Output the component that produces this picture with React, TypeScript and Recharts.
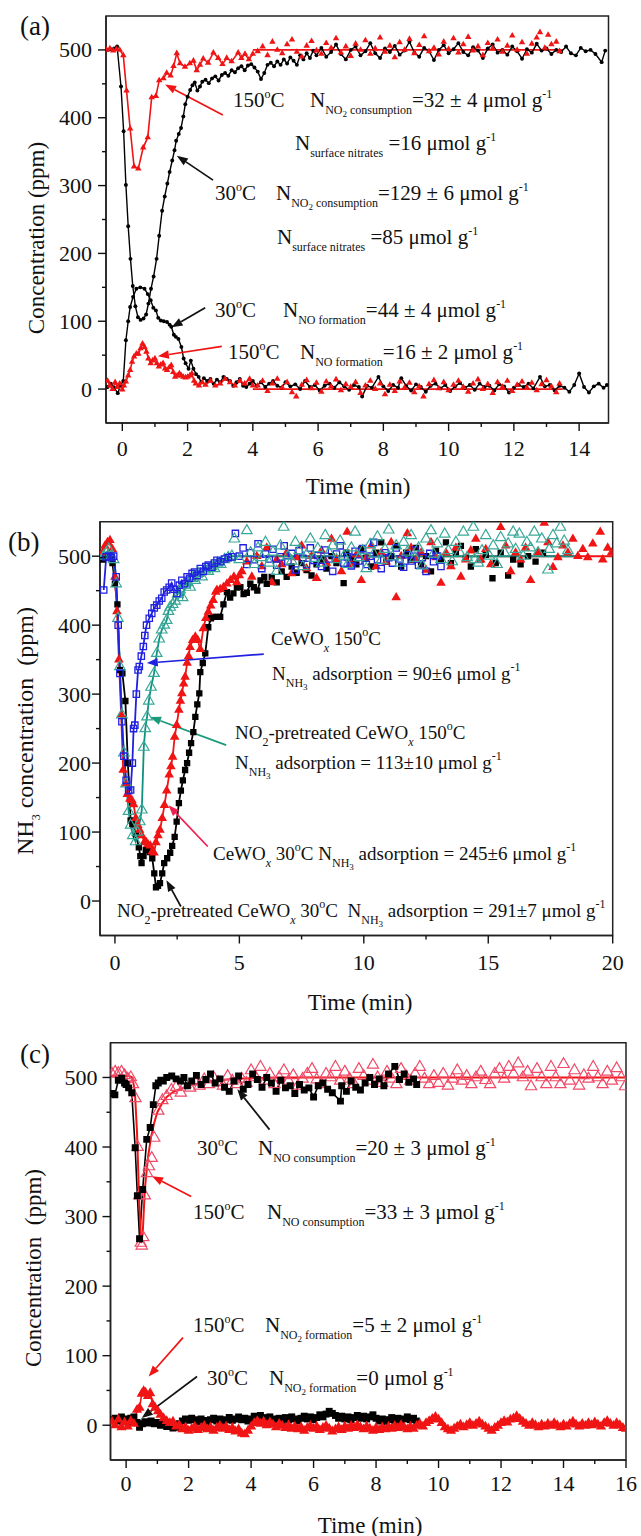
import React from 'react';
import { ComposedChart, Line, XAxis, YAxis, ReferenceLine, ReferenceArea, Symbols } from 'recharts';

type Pt = [number, number];
const SERIF = '"Liberation Serif", "DejaVu Serif", serif';

// (a) NO2 adsorption, NO2 outlet at 30 C (black) and 150 C (red)
const aNo2At30: Pt[] = [
  [-0.45, 500], [-0.35, 501], [-0.25, 502], [-0.16, 505], [-0.04, 446], [0.04, 380], [0.11, 301], [0.18, 240],
  [0.25, 192], [0.32, 152], [0.4, 122], [0.48, 106], [0.56, 102], [0.65, 104], [0.73, 110], [0.8, 126],
  [0.88, 148], [0.96, 166], [1.05, 192], [1.13, 226], [1.22, 263], [1.3, 284], [1.38, 303], [1.45, 320],
  [1.53, 337], [1.6, 352], [1.65, 366], [1.73, 376], [1.8, 385], [1.87, 402], [1.93, 420], [2.0, 431],
  [2.08, 441], [2.15, 448], [2.22, 452], [2.3, 440], [2.38, 446], [2.45, 453], [2.55, 456], [2.65, 451],
  [2.75, 458], [2.85, 461], [2.95, 455], [3.05, 463], [3.15, 466], [3.25, 462], [3.35, 470], [3.45, 467],
  [3.55, 473], [3.65, 476], [3.75, 470], [3.85, 477], [3.95, 479], [4.05, 474], [4.15, 468], [4.25, 457],
  [4.35, 466], [4.45, 478], [4.55, 481], [4.65, 476], [4.75, 483], [4.85, 478], [4.95, 486], [5.05, 480],
  [5.15, 489], [5.25, 484], [5.35, 478], [5.45, 492], [5.55, 486], [5.65, 495], [5.75, 488], [5.85, 499],
  [5.95, 492], [6.1, 503], [6.25, 490], [6.4, 497], [6.55, 508], [6.7, 494], [6.85, 486], [7.0, 500],
  [7.15, 505], [7.3, 492], [7.45, 498], [7.6, 510], [7.75, 495], [7.9, 488], [8.05, 502], [8.2, 497],
  [8.35, 506], [8.5, 493], [8.65, 499], [8.8, 512], [8.95, 496], [9.1, 490], [9.25, 503], [9.4, 498],
  [9.55, 485], [9.7, 500], [9.85, 507], [10.0, 495], [10.15, 501], [10.3, 510], [10.45, 497], [10.6, 492],
  [10.75, 504], [10.9, 499], [11.05, 488], [11.2, 502], [11.35, 508], [11.5, 496], [11.65, 500], [11.8, 493],
  [11.95, 505], [12.1, 498], [12.25, 487], [12.4, 501], [12.55, 496], [12.7, 509], [12.85, 499], [13.0, 502],
  [13.15, 494], [13.3, 500], [13.45, 497], [13.6, 505], [13.75, 495], [13.9, 492], [14.05, 503], [14.2, 498],
  [14.35, 500], [14.5, 494], [14.69, 482], [14.8, 499],
];
const aNo2At150: Pt[] = [
  [-0.48, 500], [-0.38, 502], [-0.28, 499], [-0.18, 501], [-0.08, 500], [0.03, 492], [0.13, 440], [0.24, 384],
  [0.36, 328], [0.49, 325], [0.64, 356], [0.78, 371], [0.9, 430], [1.03, 432], [1.13, 455], [1.26, 458],
  [1.36, 466], [1.48, 462], [1.57, 476], [1.67, 495], [1.77, 480], [1.92, 475], [2.07, 480], [2.18, 484],
  [2.28, 470], [2.38, 478], [2.48, 487], [2.63, 481], [2.79, 496], [2.94, 488], [3.07, 479], [3.2, 488],
  [3.35, 483], [3.55, 496], [3.65, 488], [3.76, 494], [3.88, 486], [4.0, 494],
];
const aNo2At150Fit: Pt[] = [[4.0, 500], [13.5, 500]];
const aNo2At150Tail: Pt[] = [
  [4.15, 498], [4.3, 505], [4.45, 492], [4.6, 512], [4.75, 500], [4.9, 495], [5.05, 508], [5.2, 515],
  [5.35, 497], [5.5, 490], [5.65, 506], [5.8, 513], [5.95, 499], [6.1, 494], [6.25, 510], [6.4, 503],
  [6.55, 517], [6.7, 496], [6.85, 505], [7.0, 491], [7.15, 509], [7.3, 500], [7.45, 514], [7.6, 494],
  [7.75, 502], [7.9, 518], [8.05, 497], [8.2, 506], [8.35, 489], [8.5, 511], [8.65, 500], [8.8, 516],
  [8.95, 495], [9.1, 507], [9.25, 520], [9.4, 498], [9.55, 503], [9.7, 493], [9.85, 512], [10.0, 501],
  [10.15, 517], [10.3, 496], [10.45, 508], [10.6, 519], [10.75, 499], [10.9, 505], [11.05, 492], [11.2, 510],
  [11.35, 502], [11.5, 515], [11.65, 497], [11.8, 506], [11.95, 521], [12.1, 500], [12.25, 511], [12.4, 494],
  [12.55, 509], [12.7, 518], [12.8, 526], [12.95, 503], [13.05, 522], [13.15, 508], [13.3, 512], [13.4, 498],
];
// (a) NO outlet
const aNoAt30: Pt[] = [
  [-0.45, 3], [-0.35, 8], [-0.25, 2], [-0.14, -6], [-0.05, 6], [0.03, 12], [0.11, 72], [0.18, 100],
  [0.24, 121], [0.33, 136], [0.43, 148], [0.55, 150], [0.68, 148], [0.78, 140], [0.87, 131], [0.95, 120],
  [1.03, 116], [1.1, 105], [1.18, 101], [1.27, 100], [1.37, 99], [1.45, 95], [1.5, 92], [1.58, 80],
  [1.64, 77], [1.72, 74], [1.81, 62], [1.88, 45], [1.94, 38], [2.03, 30], [2.1, 42], [2.18, 30],
  [2.26, 22], [2.34, 18], [2.42, 10], [2.5, 16], [2.6, 12], [2.7, 15], [2.8, 8], [2.9, 14],
  [3.0, 10], [3.1, 18], [3.2, 15], [3.3, 12], [3.4, 5], [3.5, 10], [3.6, 15], [3.7, 5],
  [3.8, 3], [3.9, 8], [4.0, 12], [4.12, 5], [4.25, 10], [4.38, 3], [4.5, 8], [4.62, 12],
  [4.75, 5], [4.88, 2], [5.0, 10], [5.15, 4], [5.3, 7], [5.45, 0], [5.6, 12], [5.75, 3],
  [5.9, 6], [6.05, -2], [6.2, 5], [6.35, 8], [6.5, 2], [6.65, 10], [6.8, 4], [6.95, -1],
  [7.1, 6], [7.25, 3], [7.35, -11], [7.5, 5], [7.65, 2], [7.85, 18], [8.0, 4], [8.15, -3],
  [8.3, 6], [8.45, 2], [8.55, 16], [8.7, 5], [8.85, -2], [9.0, 7], [9.15, 3], [9.3, -4],
  [9.45, 5], [9.6, 8], [9.75, 1], [9.9, 6], [10.05, -3], [10.2, 4], [10.35, 9], [10.5, 2],
  [10.65, 6], [10.8, -1], [10.95, 8], [11.1, 3], [11.25, 5], [11.4, -2], [11.55, 7], [11.7, 4],
  [11.85, -5], [12.0, 2], [12.15, 6], [12.3, 3], [12.45, 8], [12.6, 1], [12.8, 18], [12.95, 4],
  [13.1, 6], [13.25, -2], [13.4, 5], [13.55, 2], [13.7, -4], [13.85, 6], [14.0, 23], [14.15, 3],
  [14.3, -5], [14.45, 4], [14.6, 8], [14.75, 2], [14.85, 6],
];
const aNoAt150: Pt[] = [
  [-0.45, 12], [-0.38, 5], [-0.3, 0], [-0.22, 10], [-0.15, 3], [-0.08, 8], [0.0, -1], [0.05, 5],
  [0.11, 11], [0.18, 20], [0.24, 28], [0.3, 40], [0.36, 48], [0.43, 52], [0.49, 52], [0.56, 60],
  [0.62, 67], [0.68, 62], [0.74, 55], [0.8, 45], [0.87, 38], [0.93, 42], [1.0, 45], [1.06, 38],
  [1.12, 33], [1.18, 36], [1.25, 38], [1.31, 30], [1.37, 28], [1.44, 32], [1.5, 35], [1.56, 25],
  [1.62, 18], [1.68, 20], [1.75, 23], [1.81, 20], [1.87, 18], [1.94, 17], [2.0, 18], [2.07, 20],
  [2.13, 23], [2.2, 12], [2.25, 8], [2.35, 5], [2.45, 10], [2.55, 6], [2.7, 12], [2.85, 5],
  [3.0, 8], [3.15, 15], [3.3, 10], [3.45, 5], [3.6, 12], [3.75, 8], [3.9, 15], [4.0, 5],
];
const aNoAt150Fit: Pt[] = [[4.0, 0], [13.5, 0]];
const aNoAt150Tail: Pt[] = [
  [4.15, 5], [4.3, 12], [4.45, -3], [4.6, 8], [4.75, 15], [4.9, 2], [5.05, 10], [5.2, -5],
  [5.33, -11], [5.5, 6], [5.65, 13], [5.8, 1], [5.95, 9], [6.1, -4], [6.25, 11], [6.4, 4],
  [6.55, 14], [6.7, -2], [6.85, 7], [7.0, 3], [7.15, 10], [7.3, -6], [7.45, 5], [7.6, 12],
  [7.75, 0], [7.9, 8], [8.05, -8], [8.2, 6], [8.35, -3], [8.5, 11], [8.65, 2], [8.8, 9],
  [8.95, -5], [9.1, 4], [9.23, -11], [9.4, 7], [9.55, 13], [9.7, 1], [9.85, 10], [10.0, -2],
  [10.15, 6], [10.3, 12], [10.45, 3], [10.6, -4], [10.75, 8], [10.9, 14], [11.05, 0], [11.2, 7],
  [11.35, -6], [11.5, 10], [11.65, 3], [11.8, 12], [11.95, -3], [12.1, 6], [12.25, 11], [12.4, 2],
  [12.55, 9], [12.7, -2], [12.85, 7], [13.0, 13], [13.15, 4], [13.3, -5], [13.4, 8],
];

// (b) NH3 adsorption
const bCeW150: Pt[] = [
  [-0.45, 451], [-0.35, 499], [-0.25, 500], [-0.15, 498], [-0.05, 500], [0.05, 470], [0.13, 400], [0.2, 330],
  [0.28, 260], [0.36, 210], [0.45, 175], [0.55, 160], [0.63, 161], [0.7, 200], [0.75, 250], [0.8, 255],
  [0.86, 300], [0.93, 335], [0.98, 340], [1.06, 355], [1.14, 369], [1.2, 385], [1.27, 400], [1.38, 410],
  [1.48, 417], [1.58, 425], [1.68, 429], [1.78, 435], [1.88, 439], [1.98, 448], [2.08, 451], [2.18, 455],
  [2.28, 461], [2.38, 452], [2.49, 446], [2.59, 458], [2.69, 465], [2.8, 460], [2.9, 470], [3.0, 468],
  [3.1, 475], [3.2, 477], [3.3, 472], [3.43, 482], [3.55, 478], [3.65, 485], [3.75, 487], [3.9, 484],
  [4.0, 490], [4.1, 494], [4.25, 492], [4.4, 496], [4.55, 498], [4.7, 499],
];
const bCeW150Tail: Pt[] = [
  [4.84, 533], [5.0, 500], [5.15, 512], [5.3, 488], [5.45, 505], [5.6, 495], [5.75, 518], [5.9, 482],
  [6.05, 503], [6.2, 496], [6.35, 510], [6.5, 487], [6.65, 499], [6.8, 515], [6.95, 492], [7.1, 504],
  [7.25, 480], [7.4, 508], [7.55, 497], [7.7, 488], [7.85, 512], [8.0, 494], [8.15, 501], [8.3, 485],
  [8.45, 509], [8.6, 496], [8.75, 478], [8.9, 503], [9.05, 515], [9.2, 490], [9.35, 499], [9.5, 486],
  [9.65, 507], [9.8, 493], [9.95, 511], [10.1, 488], [10.25, 500], [10.4, 520], [10.55, 495], [10.7, 482],
  [10.85, 505], [11.0, 498], [11.15, 490], [11.3, 512], [11.45, 496], [11.6, 484], [11.75, 502], [11.9, 493],
  [12.05, 509], [12.2, 487], [12.35, 498], [12.5, 478], [12.65, 504], [12.8, 492], [12.95, 500], [13.1, 485],
];
const bPre150: Pt[] = [
  [-0.45, 500], [-0.35, 505], [-0.25, 510], [-0.15, 500], [-0.05, 495], [0.05, 460], [0.12, 410], [0.2, 340],
  [0.28, 270], [0.36, 215], [0.45, 170], [0.55, 130], [0.63, 110], [0.72, 95], [0.83, 86], [0.9, 100],
  [1.0, 115], [1.08, 132], [1.16, 223], [1.22, 250], [1.29, 267], [1.36, 290], [1.45, 310], [1.57, 330],
  [1.68, 359], [1.78, 380], [1.88, 393], [1.98, 400], [2.08, 407], [2.15, 420], [2.22, 426], [2.32, 430],
  [2.42, 435], [2.52, 445], [2.62, 451], [2.72, 440], [2.82, 458], [2.92, 462], [3.02, 455], [3.12, 468],
  [3.22, 465], [3.35, 475], [3.5, 470], [3.62, 480], [3.75, 478], [3.88, 485], [4.0, 482], [4.12, 490],
  [4.25, 488], [4.4, 495], [4.55, 498], [4.7, 500],
];
const bPre150Fit: Pt[] = [[4.7, 500], [18.6, 500]];
const bPre150Tail: Pt[] = [
  [4.8, 525], [5.0, 495], [5.3, 537], [5.45, 505], [5.6, 488], [5.75, 512], [5.9, 498], [6.05, 520],
  [6.2, 490], [6.35, 506], [6.5, 478], [6.65, 515], [6.78, 542], [6.95, 500], [7.1, 493], [7.25, 520],
  [7.4, 508], [7.55, 485], [7.7, 502], [7.85, 525], [8.0, 497], [8.15, 511], [8.3, 490], [8.45, 530],
  [8.6, 505], [8.75, 515], [8.9, 495], [9.05, 522], [9.2, 500], [9.35, 488], [9.5, 512], [9.65, 535],
  [9.8, 498], [9.95, 508], [10.1, 482], [10.25, 517], [10.4, 503], [10.55, 528], [10.7, 494], [10.85, 510],
  [11.0, 538], [11.15, 499], [11.3, 515], [11.45, 490], [11.6, 520], [11.75, 506], [11.9, 530], [12.05, 497],
  [12.2, 512], [12.35, 486], [12.5, 525], [12.7, 537], [12.8, 503], [12.95, 518], [13.1, 495], [13.25, 532],
  [13.4, 508], [13.55, 492], [13.7, 520], [13.85, 505], [14.0, 535], [14.15, 498], [14.4, 542], [14.45, 495],
  [14.6, 490], [14.75, 508], [14.9, 530], [15.05, 500], [15.2, 515], [15.35, 488], [15.5, 527], [15.65, 505],
  [15.8, 518], [16.0, 535], [16.1, 510], [16.25, 532], [16.4, 500], [16.55, 520], [16.7, 512], [16.85, 535],
  [17.0, 505], [17.15, 525], [17.4, 480], [17.45, 510], [17.6, 530], [17.75, 518], [17.9, 542], [18.05, 522],
  [18.2, 508],
];
const bCeW30: Pt[] = [
  [-0.5, 505], [-0.4, 515], [-0.3, 520], [-0.2, 523], [-0.1, 510], [0.0, 470], [0.08, 420], [0.16, 350],
  [0.25, 270], [0.33, 190], [0.42, 170], [0.5, 155], [0.6, 148], [0.68, 146], [0.75, 140], [0.84, 120],
  [0.92, 110], [0.99, 103], [1.08, 95], [1.19, 86], [1.26, 85], [1.33, 82], [1.42, 80], [1.5, 72],
  [1.57, 70], [1.65, 85], [1.73, 95], [1.81, 103], [1.9, 120], [1.99, 139], [2.08, 160], [2.18, 183],
  [2.25, 195], [2.32, 209], [2.4, 238], [2.48, 255], [2.57, 277], [2.63, 290], [2.69, 301], [2.76, 315],
  [2.82, 325], [2.9, 345], [2.96, 355], [3.02, 368], [3.12, 378], [3.23, 383], [3.33, 378], [3.43, 365],
  [3.55, 395], [3.65, 410], [3.75, 419], [3.85, 428], [3.95, 436], [4.05, 448], [4.1, 451], [4.23, 452],
  [4.36, 455], [4.5, 460], [4.64, 465], [4.78, 470], [4.9, 462], [5.0, 472],
];
const bCeW30Fit: Pt[] = [[5.0, 500], [20.0, 500]];
const bCeW30Tail: Pt[] = [
  [5.1, 478], [5.3, 492], [5.5, 470], [5.7, 500], [5.9, 485], [6.1, 512], [6.3, 462], [6.5, 495],
  [6.7, 488], [6.9, 505], [7.1, 475], [7.3, 498], [7.5, 515], [7.7, 482], [7.9, 500], [8.1, 468],
  [8.3, 508], [8.5, 490], [8.7, 525], [8.9, 495], [9.1, 478], [9.33, 535], [9.5, 488], [9.7, 502],
  [9.9, 465], [10.1, 498], [10.3, 515], [10.5, 485], [10.7, 505], [10.9, 492], [11.1, 520], [11.3, 440],
  [11.5, 500], [11.75, 533], [11.9, 512], [12.1, 495], [12.3, 505], [12.5, 480], [12.7, 520], [12.9, 498],
  [13.1, 461], [13.3, 505], [13.5, 485], [13.7, 512], [13.9, 470], [14.1, 495], [14.3, 508], [14.5, 525],
  [14.7, 495], [14.9, 510], [15.1, 488], [15.5, 542], [15.7, 515], [15.9, 478], [16.1, 505], [16.3, 495],
  [16.5, 512], [16.7, 465], [17.0, 505], [17.25, 548], [17.4, 520], [17.6, 484], [17.8, 498], [18.0, 515],
  [18.2, 505], [18.4, 525], [18.6, 500], [18.8, 510], [19.0, 498], [19.2, 518], [19.5, 535], [19.6, 495],
  [19.8, 512], [19.95, 505],
];
const bPre30: Pt[] = [
  [-0.5, 495], [-0.4, 500], [-0.3, 498], [-0.2, 500], [-0.1, 490], [0.0, 460], [0.1, 430], [0.2, 335],
  [0.3, 330], [0.42, 290], [0.52, 200], [0.63, 117], [0.7, 112], [0.75, 110], [0.85, 95], [0.96, 78],
  [1.02, 65], [1.07, 55], [1.15, 65], [1.24, 74], [1.32, 75], [1.41, 71], [1.5, 62], [1.58, 40],
  [1.65, 20], [1.73, 22], [1.81, 26], [1.9, 40], [1.98, 55], [2.1, 62], [2.22, 70], [2.3, 80],
  [2.4, 93], [2.48, 115], [2.57, 142], [2.65, 160], [2.73, 175], [2.82, 190], [2.9, 200], [2.98, 215],
  [3.06, 229], [3.15, 245], [3.23, 267], [3.31, 285], [3.39, 301], [3.43, 332], [3.53, 345], [3.63, 359],
  [3.75, 397], [3.86, 410], [3.96, 412], [4.1, 412], [4.23, 412], [4.36, 430], [4.5, 448], [4.63, 440],
  [4.76, 446], [4.9, 455], [5.04, 455], [5.17, 445], [5.3, 447], [5.44, 460], [5.58, 455], [5.72, 450],
  [5.85, 465], [6.0, 470], [6.1, 460],
];
const bPre30Tail: Pt[] = [
  [6.3, 470], [6.5, 462], [6.7, 478], [6.9, 470], [7.1, 485], [7.3, 476], [7.5, 490], [7.7, 480],
  [7.9, 472], [8.1, 488], [8.3, 495], [8.5, 482], [8.7, 500], [8.9, 490], [9.19, 461], [9.3, 505],
  [9.5, 495], [9.7, 488], [9.9, 510], [10.1, 498], [10.3, 485], [10.5, 505], [10.7, 520], [10.9, 492],
  [11.1, 500], [11.3, 515], [11.5, 485], [11.7, 505], [11.9, 495], [12.1, 512], [12.3, 488], [12.5, 500],
  [12.7, 478], [12.9, 508], [13.1, 495], [13.3, 520], [13.5, 490], [13.7, 505], [13.9, 515], [14.1, 498],
  [14.3, 485], [14.5, 510], [14.7, 495], [14.9, 502], [15.17, 468], [15.3, 490], [15.5, 505], [15.8, 472],
  [16.0, 495], [16.3, 488], [16.6, 500], [16.9, 492], [17.2, 505],
];

// (c) NO + O2 on NO2-pretreated sample
const cNoAt30: Pt[] = [
  [-0.45, 477], [-0.36, 475], [-0.25, 496], [-0.14, 499], [-0.05, 492], [0.0, 490], [0.08, 485], [0.18, 478],
  [0.29, 399], [0.36, 330], [0.43, 268], [0.53, 339], [0.66, 411], [0.77, 428], [0.87, 461], [0.95, 488],
  [1.03, 492], [1.11, 496], [1.19, 495], [1.3, 500], [1.46, 502], [1.6, 498], [1.74, 495], [1.85, 500],
  [1.96, 488], [2.1, 495], [2.25, 503], [2.4, 490], [2.55, 497], [2.7, 505], [2.85, 492], [3.0, 498],
  [3.15, 486], [3.3, 480], [3.45, 495], [3.6, 502], [3.75, 483], [3.9, 490], [4.05, 505], [4.2, 497],
  [4.35, 486], [4.5, 500], [4.65, 492], [4.8, 480], [4.95, 496], [5.1, 485], [5.25, 488], [5.4, 477],
  [5.55, 490], [5.7, 482], [5.85, 485], [6.0, 472], [6.15, 488], [6.3, 492], [6.45, 483], [6.6, 478],
  [6.86, 466], [6.9, 488], [7.05, 480], [7.2, 495], [7.35, 486], [7.5, 482], [7.65, 492], [7.8, 500],
  [7.95, 490], [8.1, 498], [8.25, 488], [8.4, 505], [8.6, 516], [8.75, 497], [8.9, 505], [9.05, 493],
  [9.2, 498], [9.3, 490],
];
const cNoAt150Fit: Pt[] = [
  [-0.5, 502], [0.1, 502], [0.2, 500], [0.28, 480], [0.35, 420], [0.42, 320], [0.48, 262], [0.53, 275],
  [0.6, 340], [0.7, 385], [0.8, 415], [0.9, 435], [1.0, 450], [1.15, 463], [1.3, 472], [1.5, 479],
  [1.75, 484], [2.0, 488], [2.5, 493], [3.0, 496], [3.5, 498], [4.0, 499], [5.0, 500], [16.0, 500],
];
const cNoAt150: Pt[] = [
  [-0.45, 505], [-0.35, 508], [-0.25, 506], [-0.15, 508], [-0.05, 503], [0.05, 498], [0.15, 500], [0.22, 490],
  [0.3, 470], [0.37, 400], [0.42, 330], [0.47, 262], [0.5, 258], [0.55, 270], [0.6, 330], [0.67, 362],
  [0.73, 372], [0.82, 384], [0.9, 413], [1.03, 452], [1.16, 467], [1.3, 473], [1.45, 482], [1.6, 486],
  [1.75, 478], [1.9, 490], [2.05, 485], [2.2, 494], [2.35, 488], [2.5, 497], [2.65, 490], [2.8, 500],
  [2.95, 493], [3.1, 488], [3.25, 502], [3.4, 495], [3.55, 490], [3.7, 498], [3.85, 492], [4.0, 510],
  [4.15, 500], [4.3, 515], [4.45, 495], [4.6, 505], [4.75, 490], [4.9, 500], [5.05, 510], [5.2, 495],
  [5.35, 503], [5.5, 488], [5.65, 498], [5.8, 505], [5.95, 512], [6.1, 497], [6.25, 490], [6.4, 505],
  [6.55, 500], [6.7, 515], [6.85, 495], [7.0, 508], [7.15, 498], [7.3, 490], [7.45, 512], [7.6, 502],
  [7.75, 495], [7.9, 518], [8.05, 500], [8.2, 492], [8.35, 508], [8.5, 498], [8.65, 490], [8.8, 512],
  [8.95, 502], [9.1, 495], [9.25, 505], [9.4, 515], [9.55, 498], [9.7, 490], [9.85, 502], [10.0, 492],
  [10.15, 505], [10.3, 488], [10.45, 498], [10.6, 510], [10.75, 495], [10.9, 502], [11.05, 490], [11.2, 500],
  [11.35, 508], [11.5, 496], [11.65, 490], [11.8, 505], [11.95, 512], [12.1, 498], [12.25, 515], [12.4, 505],
  [12.55, 520], [12.7, 500], [12.85, 508], [12.96, 487], [13.15, 512], [13.3, 500], [13.45, 490], [13.6, 515],
  [13.75, 500], [13.9, 490], [14.0, 519], [14.2, 495], [14.35, 510], [14.5, 488], [14.65, 503], [14.8, 498],
  [14.95, 515], [15.1, 500], [15.25, 490], [15.4, 508], [15.55, 495], [15.7, 513], [15.85, 500], [15.97, 487],
];
const cNo2At150: Pt[] = [
  [-0.45, 5], [-0.35, 0], [-0.25, 8], [-0.15, -3], [-0.05, 4], [0.05, -2], [0.15, 6], [0.25, 2],
  [0.35, 22], [0.43, 25], [0.5, 45], [0.56, 49], [0.62, 47], [0.7, 42], [0.77, 46], [0.85, 30],
  [0.93, 25], [1.02, 20], [1.1, 15], [1.2, 10], [1.3, 6], [1.4, 3], [1.5, 5], [1.6, -2],
  [1.7, 0], [1.8, -6], [1.9, -3], [2.0, -8], [2.1, -5], [2.2, -2], [2.3, -7], [2.4, -4],
  [2.5, -1], [2.6, -6], [2.7, -3], [2.8, -8], [2.9, -4], [3.0, -1], [3.1, -5], [3.2, -2],
  [3.3, -7], [3.4, -4], [3.5, -9], [3.6, -6], [3.7, -12], [3.8, -13], [3.9, -8], [4.0, -2],
  [4.1, 3], [4.2, 6], [4.3, 2], [4.4, 5], [4.5, 0], [4.6, 4], [4.7, 1], [4.8, -3],
  [4.9, 2], [5.0, -1], [5.1, -4], [5.2, 0], [5.3, -5], [5.4, -2], [5.5, -6], [5.6, -3],
  [5.7, -8], [5.8, -4], [5.9, -1], [6.0, -5], [6.1, -2], [6.2, -7], [6.3, -4], [6.4, -1],
  [6.5, -5], [6.6, -9], [6.7, -6], [6.8, -3], [6.9, -7], [7.0, -2], [7.1, -5], [7.2, -1],
  [7.3, -4], [7.4, 0], [7.5, -3], [7.6, -6], [7.7, -2], [7.8, -5], [7.9, -8], [8.0, -4],
  [8.1, -7], [8.2, -3], [8.3, -6], [8.4, -2], [8.5, -5], [8.6, -1], [8.7, -4], [8.8, 0],
  [8.9, -3], [9.0, -6], [9.1, -2], [9.2, -5], [9.3, -1], [9.4, 2], [9.5, -2], [9.6, 3],
  [9.7, 6], [9.8, 9], [9.9, 12], [10.0, 8], [10.1, 3], [10.2, -3], [10.3, -6], [10.4, -8],
  [10.5, -5], [10.6, -2], [10.7, 1], [10.8, -3], [10.9, 0], [11.0, 3], [11.1, -1], [11.2, 2],
  [11.3, 5], [11.4, 1], [11.5, -2], [11.6, -5], [11.7, -8], [11.8, -4], [11.9, -1], [12.0, 3],
  [12.1, 6], [12.2, 4], [12.3, 8], [12.4, 10], [12.5, 13], [12.6, 9], [12.7, 5], [12.8, 2],
  [12.9, -1], [13.0, 3], [13.1, 0], [13.2, -3], [13.3, 1], [13.4, -2], [13.5, 2], [13.6, -1],
  [13.7, 3], [13.8, 0], [13.9, -3], [14.0, 1], [14.1, -2], [14.2, 2], [14.3, 5], [14.4, 1],
  [14.5, -2], [14.6, 2], [14.7, -1], [14.8, 3], [14.9, 0], [15.0, 4], [15.1, 1], [15.2, -2],
  [15.3, 3], [15.4, 6], [15.5, 2], [15.6, -1], [15.7, 3], [15.8, 0], [15.9, -4], [16.0, -5],
];
const cNo2At30: Pt[] = [
  [-0.45, 8], [-0.35, 10], [-0.25, 6], [-0.15, 12], [-0.05, 9], [0.05, 5], [0.15, 10], [0.25, 12],
  [0.35, 4], [0.43, -3], [0.52, 2], [0.6, 5], [0.7, 3], [0.8, 6], [0.9, 2], [1.0, 4],
  [1.1, 0], [1.2, 3], [1.3, -2], [1.4, 1], [1.5, -4], [1.6, -3], [1.7, 2], [1.8, 6],
  [1.9, 9], [2.0, 7], [2.1, 10], [2.2, 8], [2.3, 5], [2.4, 9], [2.5, 7], [2.6, 4],
  [2.7, 8], [2.8, 10], [2.9, 6], [3.0, 9], [3.1, 5], [3.2, 8], [3.3, 11], [3.4, 7],
  [3.5, 9], [3.6, 12], [3.7, 8], [3.8, 10], [3.9, 6], [4.0, 9], [4.1, 13], [4.2, 10],
  [4.3, 14], [4.4, 11], [4.5, 8], [4.6, 12], [4.7, 9], [4.8, 6], [4.9, 10], [5.0, 7],
  [5.1, 11], [5.2, 8], [5.3, 12], [5.4, 9], [5.5, 6], [5.6, 10], [5.7, 13], [5.8, 9],
  [5.9, 12], [6.0, 8], [6.1, 11], [6.2, 15], [6.3, 12], [6.4, 16], [6.5, 20], [6.6, 17],
  [6.7, 14], [6.8, 10], [6.9, 13], [7.0, 9], [7.1, 12], [7.2, 8], [7.3, 11], [7.4, 14],
  [7.5, 10], [7.6, 13], [7.7, 9], [7.8, 12], [7.9, 15], [8.0, 10], [8.1, 6], [8.2, 9],
  [8.3, 5], [8.4, 8], [8.5, 11], [8.6, 7], [8.7, 10], [8.8, 6], [8.9, 9], [9.0, 12],
  [9.1, 8], [9.2, 10], [9.3, 6],
];

const yTicks = [0, 50, 100, 150, 200, 250, 300, 350, 400, 450, 500];
const yMajor = [0, 100, 200, 300, 400, 500];
const aXTicks = [0, 1, 2, 3, 4, 5, 6, 7, 8, 9, 10, 11, 12, 13, 14];
const aXMajor = [0, 2, 4, 6, 8, 10, 12, 14];
const bXTicks = [0, 2.5, 5, 7.5, 10, 12.5, 15, 17.5, 20];
const bXMajor = [0, 5, 10, 15, 20];
const cXTicks = [0, 1, 2, 3, 4, 5, 6, 7, 8, 9, 10, 11, 12, 13, 14, 15, 16];
const cXMajor = [0, 2, 4, 6, 8, 10, 12, 14, 16];

const RED = '#f01414';
const BLUE = '#2020e0';
const TEAL = '#109080';
const TEAL_PT = '#3aa898';
const PINK = '#f04a68';

const rows = (pts: Pt[]) => pts.map(([t, v]) => ({ t, v }));

function dotOf(type: any, size: number, fill: string, stroke: string, sw = 1) {
  return (p: any) => {
    if (p.cx == null || p.cy == null) return <g key={`n${p.index}`} />;
    return (
      <Symbols key={`d${p.index}`} cx={p.cx} cy={p.cy} type={type} size={size}
        fill={fill} stroke={stroke} strokeWidth={sw} />
    );
  };
}

function xTick(majors: number[], dy: number) {
  return (p: any) => {
    const v = p.payload.value;
    const major = majors.indexOf(v) >= 0;
    return (
      <g key={`x${v}`}>
        <line x1={p.x} x2={p.x} y1={p.y} y2={p.y + (major ? 8 : 4)} stroke="#111" strokeWidth={1.4} />
        {major ? (
          <text x={p.x} y={p.y + dy} textAnchor="middle" dominantBaseline="central"
            fontSize={22} fontFamily={SERIF} fill="#111">{v}</text>
        ) : null}
      </g>
    );
  };
}

function yTick(gap: number) {
  return (p: any) => {
    const v = p.payload.value;
    const major = yMajor.indexOf(v) >= 0;
    return (
      <g key={`y${v}`}>
        <line x1={p.x} x2={p.x - (major ? 8 : 4)} y1={p.y} y2={p.y} stroke="#111" strokeWidth={1.4} />
        {major ? (
          <text x={p.x - gap} y={p.y} textAnchor="end" dominantBaseline="central"
            fontSize={22} fontFamily={SERIF} fill="#111">{v}</text>
        ) : null}
      </g>
    );
  };
}

function arrow(color: string) {
  return (p: any) => {
    const { x1, y1, x2, y2 } = p;
    const ang = Math.atan2(y2 - y1, x2 - x1);
    const L = 11, W = 4.2;
    const bx = x2 - L * Math.cos(ang), by = y2 - L * Math.sin(ang);
    const nx = -Math.sin(ang) * W, ny = Math.cos(ang) * W;
    return (
      <g>
        <line x1={x1} y1={y1} x2={bx} y2={by} stroke={color} strokeWidth={1.7} />
        <polygon points={`${x2},${y2} ${bx + nx},${by + ny} ${bx - nx},${by - ny}`} fill={color} />
      </g>
    );
  };
}

const Sub = ({ children }: { children: React.ReactNode }) => (
  <span style={{ fontSize: 12, position: 'relative', top: 7 }}>{children}</span>
);
const Sub2 = ({ children }: { children: React.ReactNode }) => (
  <span style={{ fontSize: 9, position: 'relative', top: 3 }}>{children}</span>
);
const Sup = ({ children }: { children: React.ReactNode }) => (
  <span style={{ fontSize: 12, position: 'relative', top: -9 }}>{children}</span>
);

function Note({ x, y, size = 21, children }: { x: number; y: number; size?: number; children: React.ReactNode }) {
  return (
    <div style={{
      position: 'absolute', left: x, top: y, transform: 'translateY(-50%)', fontSize: size,
      lineHeight: 1, whiteSpace: 'pre', fontFamily: SERIF, color: '#111',
    }}>{children}</div>
  );
}

function Title({ x, y, rotate = false, size = 23, children }: { x: number; y: number; rotate?: boolean; size?: number; children: React.ReactNode }) {
  return (
    <div style={{
      position: 'absolute', left: x, top: y,
      transform: `translate(-50%, -50%)${rotate ? ' rotate(-90deg)' : ''}`,
      fontSize: size, lineHeight: 1, whiteSpace: 'pre', fontFamily: SERIF, color: '#111',
    }}>{children}</div>
  );
}

const deg = (t: string) => <>{t}<Sup>o</Sup>C</>;

export default function App() {
  const frame = { fill: 'none', stroke: '#222', strokeWidth: 1.5 } as const;
  const axisLine = { stroke: '#222', strokeWidth: 1.5 };
  return (
    <div style={{ position: 'absolute', left: 0, top: 0, width: 641, height: 1536, background: '#fff', overflow: 'hidden' }}>
      {/* (a) */}
      <div style={{ position: 'absolute', left: 0, top: 0 }}>
        <ComposedChart width={641} height={470} margin={{ top: 16, right: 32.5, bottom: 17, left: 56 }}>
          <XAxis type="number" dataKey="t" domain={[-0.5, 14.9]} allowDataOverflow ticks={aXTicks} interval={0}
            tickLine={false} tickSize={0} tickMargin={0} height={30} axisLine={axisLine} tick={xTick(aXMajor, 25)} />
          <YAxis type="number" domain={[-50, 550]} allowDataOverflow ticks={yTicks} interval={0}
            tickLine={false} tickSize={0} tickMargin={0} width={50} axisLine={axisLine} tick={yTick(14)} />
          <ReferenceArea x1={-0.5} x2={14.9} y1={-50} y2={550} {...frame} />
          <Line data={rows(aNo2At150Fit)} dataKey="v" stroke={RED} strokeWidth={1.8} dot={false} isAnimationActive={false} />
          <Line data={rows(aNoAt150Fit)} dataKey="v" stroke={RED} strokeWidth={1.8} dot={false} isAnimationActive={false} />
          <Line data={rows(aNo2At30)} dataKey="v" stroke="#000" strokeWidth={1.4} dot={dotOf('circle', 12, '#000', '#000', 0)} isAnimationActive={false} />
          <Line data={rows(aNoAt30)} dataKey="v" stroke="#000" strokeWidth={1.4} dot={dotOf('circle', 12, '#000', '#000', 0)} isAnimationActive={false} />
          <Line data={rows(aNo2At150Tail)} dataKey="v" stroke="none" dot={dotOf('triangle', 18, RED, RED, 0)} isAnimationActive={false} />
          <Line data={rows(aNoAt150Tail)} dataKey="v" stroke="none" dot={dotOf('triangle', 18, RED, RED, 0)} isAnimationActive={false} />
          <Line data={rows(aNo2At150)} dataKey="v" stroke={RED} strokeWidth={1.6} dot={dotOf('triangle', 18, RED, RED, 0)} isAnimationActive={false} />
          <Line data={rows(aNoAt150)} dataKey="v" stroke={RED} strokeWidth={1.6} dot={dotOf('triangle', 18, RED, RED, 0)} isAnimationActive={false} />
          <ReferenceLine segment={[{ x: 3.08, y: 404 }, { x: 1.31, y: 449 }]} shape={arrow(RED)} />
          <ReferenceLine segment={[{ x: 2.78, y: 308 }, { x: 1.67, y: 344 }]} shape={arrow('#111')} />
          <ReferenceLine segment={[{ x: 2.54, y: 120 }, { x: 1.51, y: 91 }]} shape={arrow('#111')} />
          <ReferenceLine segment={[{ x: 3.05, y: 63 }, { x: 1.09, y: 48.5 }]} shape={arrow(RED)} />
        </ComposedChart>
      </div>

      {/* (b) */}
      <div style={{ position: 'absolute', left: 0, top: 500 }}>
        <ComposedChart width={641} height={490} margin={{ top: 21.7, right: 28.3, bottom: 24.5, left: 50 }}>
          <XAxis type="number" dataKey="t" domain={[-0.6, 20]} allowDataOverflow ticks={bXTicks} interval={0}
            tickLine={false} tickSize={0} tickMargin={0} height={30} axisLine={axisLine} tick={xTick(bXMajor, 26.5)} />
          <YAxis type="number" domain={[-50, 550]} allowDataOverflow ticks={yTicks} interval={0}
            tickLine={false} tickSize={0} tickMargin={0} width={50} axisLine={axisLine} tick={yTick(9)} />
          <ReferenceArea x1={-0.6} x2={20} y1={-50} y2={550} {...frame} />
          <Line data={rows(bCeW30Fit)} dataKey="v" stroke={RED} strokeWidth={2} dot={false} isAnimationActive={false} />
          <Line data={rows(bPre30Tail)} dataKey="v" stroke="none" dot={dotOf('square', 40, '#000', '#000', 0)} isAnimationActive={false} />
          <Line data={rows(bCeW30Tail)} dataKey="v" stroke="none" dot={dotOf('triangle', 40, RED, RED, 0)} isAnimationActive={false} />
          <Line data={rows(bCeW150Tail)} dataKey="v" stroke="none" dot={dotOf('square', 40, 'none', BLUE, 1.3)} isAnimationActive={false} />
          <Line data={rows(bPre150Tail)} dataKey="v" stroke="none" dot={dotOf('triangle', 48, 'none', TEAL_PT, 1.2)} isAnimationActive={false} />
          <Line data={rows(bPre150Fit)} dataKey="v" stroke={TEAL} strokeWidth={2} dot={false} isAnimationActive={false} />
          <Line data={rows(bPre30)} dataKey="v" stroke="#000" strokeWidth={1.8} dot={dotOf('square', 40, '#000', '#000', 0)} isAnimationActive={false} />
          <Line data={rows(bCeW30)} dataKey="v" stroke={RED} strokeWidth={1.8} dot={dotOf('triangle', 40, RED, RED, 0)} isAnimationActive={false} />
          <Line data={rows(bPre150)} dataKey="v" stroke={TEAL} strokeWidth={1.8} dot={dotOf('triangle', 48, 'none', TEAL_PT, 1.2)} isAnimationActive={false} />
          <Line data={rows(bCeW150)} dataKey="v" stroke={BLUE} strokeWidth={1.8} dot={dotOf('square', 40, 'none', BLUE, 1.3)} isAnimationActive={false} />
          <ReferenceLine segment={[{ x: 5.98, y: 358 }, { x: 1.28, y: 345 }]} shape={arrow(BLUE)} />
          <ReferenceLine segment={[{ x: 4.47, y: 226 }, { x: 1.41, y: 267 }]} shape={arrow('#1a9a78')} />
          <ReferenceLine segment={[{ x: 3.73, y: 79 }, { x: 2.15, y: 139 }]} shape={arrow('#ee2050')} />
          <ReferenceLine segment={[{ x: 2.65, y: -8 }, { x: 2.07, y: 30 }]} shape={arrow('#111')} />
        </ComposedChart>
      </div>

      {/* (c) */}
      <div style={{ position: 'absolute', left: 0, top: 1020 }}>
        <ComposedChart width={641} height={490} margin={{ top: 22.7, right: 15, bottom: 20, left: 60.5 }}>
          <XAxis type="number" dataKey="t" domain={[-0.5, 16]} allowDataOverflow ticks={cXTicks} interval={0}
            tickLine={false} tickSize={0} tickMargin={0} height={30} axisLine={axisLine} tick={xTick(cXMajor, 23)} />
          <YAxis type="number" domain={[-50, 550]} allowDataOverflow ticks={yTicks} interval={0}
            tickLine={false} tickSize={0} tickMargin={0} width={50} axisLine={axisLine} tick={yTick(13)} />
          <ReferenceArea x1={-0.5} x2={16} y1={-50} y2={550} {...frame} />
          <Line data={rows(cNoAt150)} dataKey="v" stroke="none" dot={dotOf('triangle', 55, 'none', PINK, 1.2)} isAnimationActive={false} />
          <Line data={rows(cNoAt30)} dataKey="v" stroke="#000" strokeWidth={1.6} dot={dotOf('square', 48, '#000', '#000', 0)} isAnimationActive={false} />
          <Line data={rows(cNoAt150Fit)} dataKey="v" stroke={RED} strokeWidth={2} dot={false} isAnimationActive={false} />
          <Line data={rows(cNo2At30)} dataKey="v" stroke="#000" strokeWidth={1.6} dot={dotOf('square', 48, '#000', '#000', 0)} isAnimationActive={false} />
          <Line data={rows(cNo2At150)} dataKey="v" stroke={RED} strokeWidth={1.6} dot={dotOf('triangle', 45, RED, RED, 0)} isAnimationActive={false} />
          <ReferenceLine segment={[{ x: 4.59, y: 425 }, { x: 3.56, y: 483 }]} shape={arrow('#111')} />
          <ReferenceLine segment={[{ x: 2.08, y: 329 }, { x: 0.83, y: 358 }]} shape={arrow(RED)} />
          <ReferenceLine segment={[{ x: 1.82, y: 126 }, { x: 0.72, y: 70 }]} shape={arrow(RED)} />
          <ReferenceLine segment={[{ x: 2.27, y: 70 }, { x: 0.5, y: 10.5 }]} shape={arrow('#111')} />
        </ComposedChart>
      </div>

      {/* panel letters and axis titles */}
      <Note x={20} y={26} size={27}>(a)</Note>
      <Note x={8} y={542} size={27}>(b)</Note>
      <Note x={20} y={1054} size={27}>(c)</Note>
      <Title x={358} y={486}>Time (min)</Title>
      <Title x={360} y={1002}>Time (min)</Title>
      <Title x={370} y={1525}>Time (min)</Title>
      <Title x={36} y={238} rotate>Concentration (ppm)</Title>
      <Title x={25} y={731} rotate size={24}>NH<Sub>3</Sub> concentration  (ppm)</Title>
      <Title x={33} y={1268} rotate>Concentration  (ppm)</Title>

      {/* (a) notes */}
      <Note x={233} y={100}>{deg('150')}</Note>
      <Note x={310} y={100}>N<Sub>NO<Sub2>2</Sub2> consumption</Sub>=32 ± 4 μmol g<Sup>-1</Sup></Note>
      <Note x={295} y={143}>N<Sub>surface nitrates</Sub> =16 μmol g<Sup>-1</Sup></Note>
      <Note x={215} y={193}>{deg('30')}</Note>
      <Note x={276} y={193}>N<Sub>NO<Sub2>2</Sub2> consumption</Sub>=129 ± 6 μmol g<Sup>-1</Sup></Note>
      <Note x={277} y={237}>N<Sub>surface nitrates</Sub> =85 μmol g<Sup>-1</Sup></Note>
      <Note x={215} y={310}>{deg('30')}</Note>
      <Note x={283} y={310}>N<Sub>NO formation</Sub>=44 ± 4 μmol g<Sup>-1</Sup></Note>
      <Note x={228} y={352}>{deg('150')}</Note>
      <Note x={300} y={352}>N<Sub>NO formation</Sub>=16 ± 2 μmol g<Sup>-1</Sup></Note>

      {/* (b) notes */}
      <Note x={271} y={638} size={19}>CeWO<Sub><i>x</i></Sub> {deg('150')}</Note>
      <Note x={272} y={673} size={19}>N<Sub>NH<Sub2>3</Sub2></Sub> adsorption = 90±6 μmol g<Sup>-1</Sup></Note>
      <Note x={235} y={732} size={19}>NO<Sub>2</Sub>-pretreated CeWO<Sub><i>x</i></Sub> {deg('150')}</Note>
      <Note x={235} y={762} size={19}>N<Sub>NH<Sub2>3</Sub2></Sub> adsorption = 113±10 μmol g<Sup>-1</Sup></Note>
      <Note x={213} y={853} size={19}>CeWO<Sub><i>x</i></Sub> {deg('30')} N<Sub>NH<Sub2>3</Sub2></Sub> adsorption = 245±6 μmol g<Sup>-1</Sup></Note>
      <Note x={117} y={910} size={19}>NO<Sub>2</Sub>-pretreated CeWO<Sub><i>x</i></Sub> {deg('30')}  N<Sub>NH<Sub2>3</Sub2></Sub> adsorption = 291±7 μmol g<Sup>-1</Sup></Note>

      {/* (c) notes */}
      <Note x={197} y={1148}>{deg('30')}</Note>
      <Note x={258} y={1148}>N<Sub>NO consumption</Sub>=20 ± 3 μmol g<Sup>-1</Sup></Note>
      <Note x={193} y={1212}>{deg('150')}</Note>
      <Note x={267} y={1212}>N<Sub>NO consumption</Sub>=33 ± 3 μmol g<Sup>-1</Sup></Note>
      <Note x={193} y={1325}>{deg('150')}</Note>
      <Note x={265} y={1325}>N<Sub>NO<Sub2>2</Sub2> formation</Sub>=5 ± 2 μmol g<Sup>-1</Sup></Note>
      <Note x={207} y={1378}>{deg('30')}</Note>
      <Note x={269} y={1378}>N<Sub>NO<Sub2>2</Sub2> formation</Sub>=0 μmol g<Sup>-1</Sup></Note>
    </div>
  );
}
